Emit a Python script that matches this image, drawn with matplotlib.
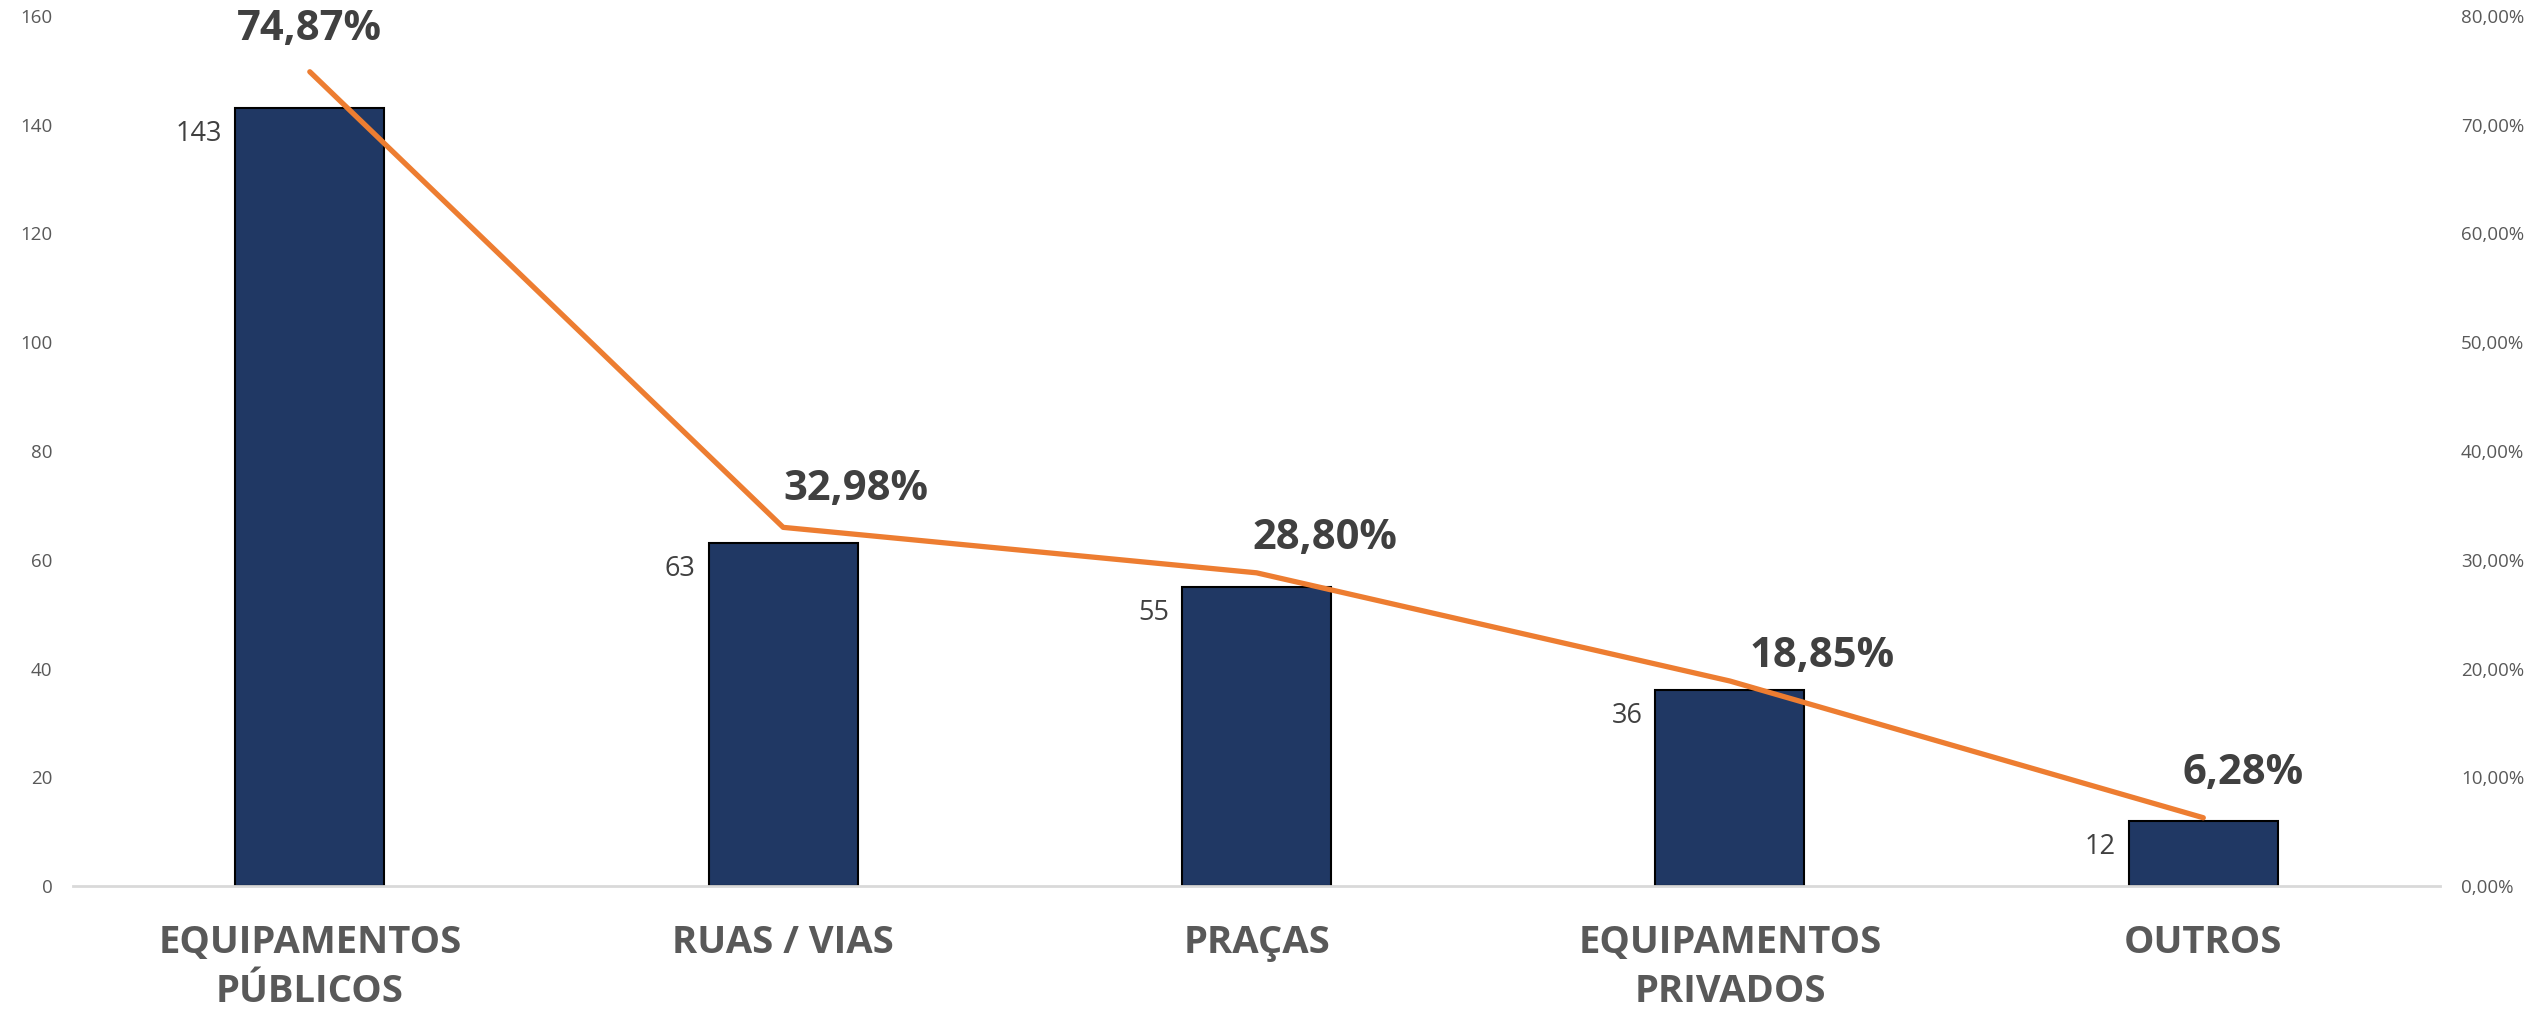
import matplotlib.pyplot as plt
from matplotlib.ticker import FuncFormatter

plt.rcParams['font.family'] = ['Open Sans', 'DejaVu Sans']

# data
categories = ['EQUIPAMENTOS\nPÚBLICOS', 'RUAS / VIAS', 'PRAÇAS', 'EQUIPAMENTOS\nPRIVADOS', 'OUTROS']
counts = [143, 63, 55, 36, 12]
percents = [74.87, 32.98, 28.80, 18.85, 6.28]

# label nudges (pixels) for the percent labels, like the manual placement in the original
pct_offsets = [(0, 42), (73, 38), (68, 34), (92, 25), (40, 44)]

fig = plt.figure(figsize=(25.39, 10.11), dpi=100)
ax = fig.add_axes([0.0288, 0.1236, 0.9322, 0.8606])
ax2 = ax.twinx()

x = range(len(categories))
bars = ax.bar(x, counts, width=0.315, color='#203864', edgecolor='black', linewidth=1.5, zorder=2)

ax.set_xlim(-0.5, len(categories) - 0.5)
ax.set_ylim(0, 160)
ax.set_yticks(range(0, 161, 20))
ax2.set_ylim(0, 80)
ax2.set_yticks(range(0, 81, 10))
ax2.yaxis.set_major_formatter(FuncFormatter(lambda v, p: f'{v:.2f}%'.replace('.', ',')))

for a in (ax, ax2):
    for s in a.spines.values():
        s.set_visible(False)
    a.tick_params(axis='y', length=0, pad=15, labelsize=13.5, labelcolor='#595959')
ax.spines['bottom'].set_visible(True)
ax.spines['bottom'].set_color('#D9D9D9')
ax.spines['bottom'].set_linewidth(2)

ax.set_xticks(list(x))
ax.set_xticklabels(categories, fontsize=27.5, fontweight='bold', color='#595959', linespacing=1.38)
ax.tick_params(axis='x', length=0, pad=27)

# bar value labels, left of each bar
for b, v in zip(bars, counts):
    ax.annotate(str(v), (b.get_x(), v), xytext=(-13, -26), textcoords='offset pixels',
                ha='right', va='center', fontsize=19.5, color='#404040')

# percentage line
ax2.plot(list(x), percents, color='#ED7D31', linewidth=3.8, solid_capstyle='round', zorder=3)
for i, (p, off) in enumerate(zip(percents, pct_offsets)):
    ax2.annotate(f'{p:.2f}%'.replace('.', ','), (i, p), xytext=off, textcoords='offset pixels',
                 ha='center', va='center', fontsize=30, fontweight='bold', color='#404040')

fig.savefig('out.png', dpi=100)
